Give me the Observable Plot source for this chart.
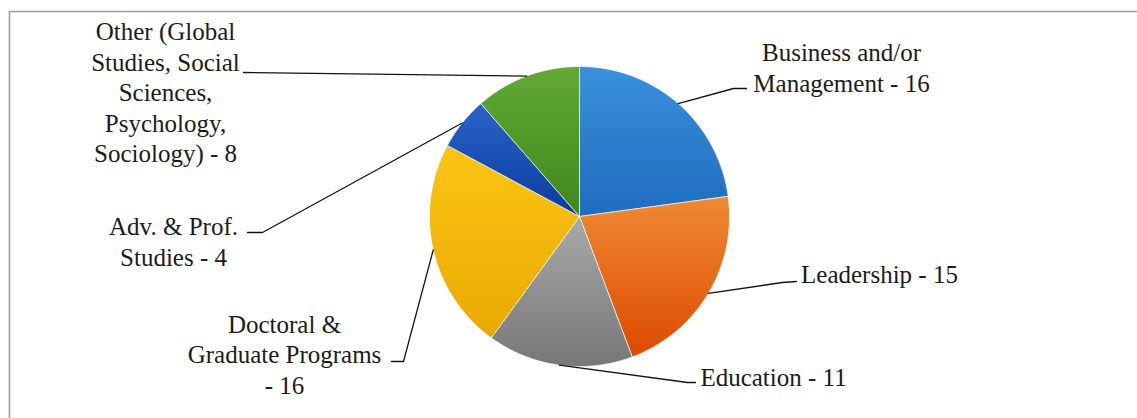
<!DOCTYPE html>
<html><head><meta charset="utf-8">
<script src="https://cdn.jsdelivr.net/npm/d3@7"></script>
<script src="https://cdn.jsdelivr.net/npm/@observablehq/plot@0.6"></script>
<style>
html,body{margin:0;padding:0;background:#fff}
svg{display:block}
</style>
</head><body><div id="chart"></div>
<script>
// ---- data ----
const categories = [
  "Business and/or Management",
  "Leadership",
  "Education",
  "Doctoral & Graduate Programs",
  "Adv. & Prof. Studies",
  "Other (Global Studies, Social Sciences, Psychology, Sociology)"
];
const values = [16, 15, 11, 16, 4, 8];
const labels = [
  "Business and/or\nManagement - 16",
  "Leadership - 15",
  "Education - 11",
  "Doctoral &\nGraduate Programs\n- 16",
  "Adv. & Prof.\nStudies - 4",
  "Other (Global\nStudies, Social\nSciences,\nPsychology,\nSociology) - 8"
];
const colorsTop    = ["#3a90dd", "#f08a33", "#a9a9a9", "#fbc515", "#2a63c9", "#62a934"];
const colorsBottom = ["#1f6cbe", "#dc4a00", "#777777", "#eaa900", "#0b3c9c", "#3d891b"];

// ---- layout ----
const W = 1137, H = 418;
const cx = 579, cy = 216, R = 150;
const FONT = "Liberation Serif";
const labelPos = [[841, 66], [879, 273], [773, 376], [284, 353], [173, 240], [165, 91]];
const leaderTail = [
  [[733, 88], [746, 88]],
  [[782, 282], [796, 281]],
  [[687, 382], [695, 382]],
  [[403, 361], [391, 361]],
  [[262, 232], [247, 232]],
  [[243, 72]]
];

const pies = d3.pie().sort(null).value(d => d)(values);
const pt = a => [cx + R * Math.sin(a), cy - R * Math.cos(a)];

const slices = pies.map((p, i) => {
  const pts = [{i, x: cx, y: cy}];
  const n = Math.max(2, Math.ceil((p.endAngle - p.startAngle) / 0.01));
  for (let k = 0; k <= n; k++) {
    const a = p.startAngle + (p.endAngle - p.startAngle) * k / n;
    const [x, y] = pt(a);
    pts.push({i, x, y});
  }
  pts.push({i, x: cx, y: cy});
  return pts;
});

const leaders = pies.map((p, i) => {
  const mid = (p.startAngle + p.endAngle) / 2;
  const [x0, y0] = pt(mid);
  return [{x: x0, y: y0}, ...leaderTail[i].map(([x, y]) => ({x, y}))];
});

const labelData = labels.map((t, i) => ({text: t, x: labelPos[i][0], y: labelPos[i][1]}));

const marks = [
  Plot.ruleY([11], {x1: 9, x2: W, stroke: "#9d9d9d", strokeWidth: 1.6}),
  Plot.ruleX([9], {y1: 11, y2: H, stroke: "#9d9d9d", strokeWidth: 1.6}),
  ...slices.map((s, i) => Plot.line(s, {
    x: "x", y: "y", fill: `url(#grad${i})`, stroke: "#ffffff",
    strokeOpacity: 0.65, strokeWidth: 1, curve: "linear", strokeLinejoin: "round"
  })),
  ...leaders.map(l => Plot.line(l, {x: "x", y: "y", stroke: "#141414", strokeWidth: 1.3, curve: "linear"})),
  Plot.text(labelData, {
    x: "x", y: "y", text: "text", textAnchor: "middle", lineAnchor: "middle",
    fontSize: 25, lineHeight: 1.22, fontFamily: FONT,
    fill: "#1b1b1b"
  })
];

const svg = Plot.plot({
  width: W, height: H, margin: 0,
  style: {background: "#fff", overflow: "visible"},
  x: {domain: [0, W], range: [0, W], axis: null},
  y: {domain: [0, H], range: [0, H], axis: null},
  marks
});

const defs = d3.select(svg).insert("defs", ":first-child");
colorsTop.forEach((c, i) => {
  const g = defs.append("linearGradient").attr("id", `grad${i}`)
    .attr("x1", 0).attr("y1", 0).attr("x2", 0).attr("y2", 1);
  g.append("stop").attr("offset", "0%").attr("stop-color", c);
  g.append("stop").attr("offset", "100%").attr("stop-color", colorsBottom[i]);
});

document.getElementById("chart").appendChild(svg);
</script>
</body></html>
